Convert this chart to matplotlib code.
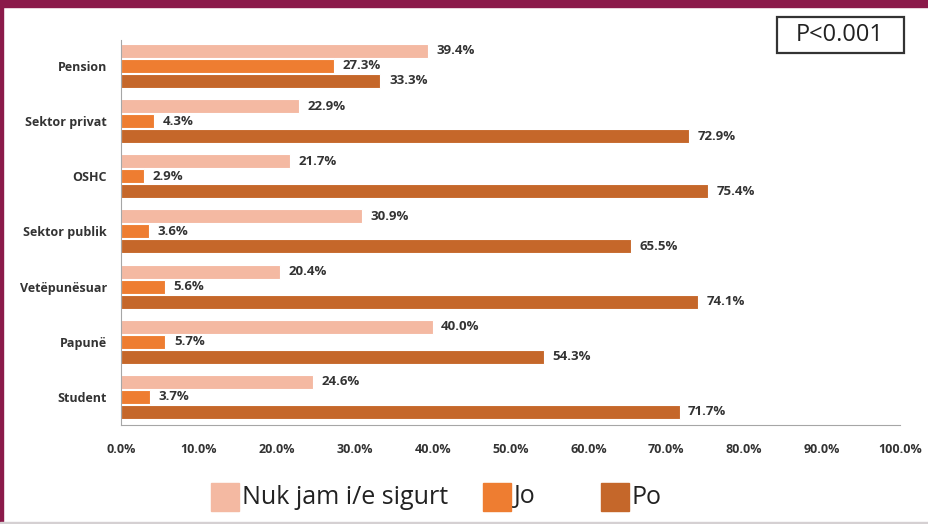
import numpy as np
import matplotlib.pyplot as plt
from matplotlib.patches import Rectangle

plt.rcParams['font.family'] = ['Open Sans', 'DejaVu Sans']

# data
categories = ["Pension", "Sektor privat", "OSHC", "Sektor publik",
              "Vetëpunësuar", "Papunë", "Student"]
series_names = ["Nuk jam i/e sigurt", "Jo", "Po"]
nuk_jam = [39.4, 22.9, 21.7, 30.9, 20.4, 40.0, 24.6]
jo = [27.3, 4.3, 2.9, 3.6, 5.6, 5.7, 3.7]
po = [33.3, 72.9, 75.4, 65.5, 74.1, 54.3, 71.7]
x_ticks = [0, 10, 20, 30, 40, 50, 60, 70, 80, 90, 100]

colors = ["#F4B9A2", "#EE7D31", "#C5672A"]
text_col = "#333333"
axis_col = "#A6A6A6"

fig = plt.figure(figsize=(9.29, 5.24), dpi=100)
ax = fig.add_axes([121 / 929, 99 / 524, 779 / 929, 385 / 524])

n = len(categories)
ypos = np.arange(n)[::-1]
bar_h = 0.255
offset = 0.272

for vals, col, off in zip([nuk_jam, jo, po], colors, [offset, 0, -offset]):
    bars = ax.barh(ypos + off, vals, height=bar_h, color=col,
                   edgecolor="white", linewidth=0.8)
    for b, v in zip(bars, vals):
        ax.text(v + 1.1, b.get_y() + b.get_height() / 2, f"{v:.1f}%",
                va="center", ha="left", fontsize=9.5, fontweight="bold",
                color=text_col)

ax.set_xlim(0, 100)
ax.set_ylim(-0.51, n - 1 + 0.47)
ax.set_yticks(ypos)
ax.set_yticklabels(categories, fontsize=9, fontweight="bold", color=text_col)
ax.set_xticks(x_ticks)
ax.set_xticklabels([f"{t:.1f}%" for t in x_ticks], fontsize=9,
                   fontweight="bold", color=text_col)
ax.tick_params(axis="both", length=0)
ax.tick_params(axis="x", pad=13)
ax.tick_params(axis="y", pad=10)
for s in ["top", "right"]:
    ax.spines[s].set_visible(False)
ax.spines["left"].set_color(axis_col)
ax.spines["bottom"].set_color(axis_col)

# P value box
fig.text(840 / 929, 1 - 35 / 524, "P<0.001", ha="center", va="center",
         fontsize=17, color="#222222")
fig.add_artist(Rectangle((777 / 929, 1 - 53 / 524), 127 / 929, 36 / 524,
                         transform=fig.transFigure, fill=False,
                         edgecolor="#333333", linewidth=1.6))

# legend
leg_x = [211, 483, 601]
for name, col, lx in zip(series_names, colors, leg_x):
    fig.add_artist(Rectangle((lx / 929, 1 - 511 / 524), 28 / 929, 28 / 524,
                             transform=fig.transFigure, color=col))
    fig.text((lx + 31) / 929, 1 - 497 / 524, name, ha="left", va="center",
             fontsize=18, color="#222222")

# frame bands
fig.add_artist(Rectangle((0, 1 - 7 / 524), 1, 7 / 524,
                         transform=fig.transFigure, color="#8B1A4A"))
fig.add_artist(Rectangle((0, 0), 3 / 929, 1,
                         transform=fig.transFigure, color="#8B1A4A"))
fig.add_artist(Rectangle((0, 0), 1, 2 / 524,
                         transform=fig.transFigure, color="#D5D0D2"))

fig.savefig("out.png", dpi=100)
